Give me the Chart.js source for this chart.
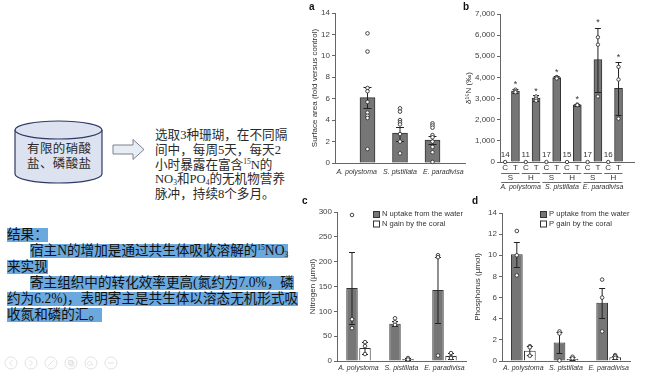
<!DOCTYPE html>
<html><head><meta charset="utf-8">
<script src="https://cdn.jsdelivr.net/npm/chart.js@4.4.1/dist/chart.umd.min.js"></script>
<style>
html,body{margin:0;padding:0;background:#fff;}
body{width:648px;height:378px;position:relative;overflow:hidden;}
.abs{position:absolute;}
canvas{position:absolute;}
.cn{font-family:"Liberation Serif","Noto Sans CJK SC",serif;color:#2a2a2a;white-space:nowrap;}
.top{font-size:12.6px;line-height:15px;left:155px;}
.hl{font-size:13.6px;white-space:nowrap;}
.hl span{display:inline-block;background:#6aa8de;height:14px;line-height:14px;color:#111;}
sup{font-size:7.5px;vertical-align:5px;line-height:0;}
sub{font-size:7.5px;vertical-align:-2px;line-height:0;}
.pl{font-family:"Liberation Sans",Arial,sans-serif;font-weight:bold;font-size:10px;color:#111;}
</style></head>
<body>
<svg class="abs" style="left:0;top:0" width="300" height="378">
  <path d="M15,130 L15,174 A43.5,9 0 0 0 102,174 L102,130" fill="#dce2ef" stroke="#2e3a66" stroke-width="1.2"/>
  <ellipse cx="58.5" cy="130" rx="43.5" ry="9" fill="#dce2ef" stroke="#2e3a66" stroke-width="1.2"/>
  <polygon points="113,145 133,145 133,139.5 144,149.5 133,159.5 133,154 113,154" fill="#e8ecf3" stroke="#7b8192" stroke-width="1"/>
  <g fill="none" stroke="#e2e2e2" stroke-width="1">
    <circle cx="11" cy="363" r="6"/><circle cx="31" cy="363" r="6"/><circle cx="51" cy="363" r="6"/>
    <circle cx="71" cy="363" r="6"/><circle cx="91" cy="363" r="6"/><circle cx="111" cy="363" r="6"/>
    <path d="M12.5,360 L9.5,363 L12.5,366 M29.5,360 L32.5,363 L29.5,366 M48,366 L54,360 M68.5,360.5 h4 v4 h-4z M70,362 h4 v4 h-4z M89.5,361.5 a2,2 0 1 0 0.1,0 M91.5,363.5 l2,2 M108,363 h6"/>
  </g>
</svg>
<div class="abs cn" style="left:27px;top:142px;font-size:12.5px;letter-spacing:0.4px;line-height:15px;">有限的硝酸<br>盐、磷酸盐</div>

<div class="abs cn top" style="top:128px;">选取3种珊瑚，在不同隔</div>
<div class="abs cn top" style="top:143px;">间中，每周5天，每天2</div>
<div class="abs cn top" style="top:158px;">小时暴露在富含<sup>15</sup>N的</div>
<div class="abs cn top" style="top:172px;">NO<sub>3</sub>和PO<sub>4</sub>的无机物营养</div>
<div class="abs cn top" style="top:187px;">脉冲，持续8个多月。</div>

<div class="abs" style="left:0;top:0;width:300px;height:378px;overflow:hidden;">
<div class="abs cn hl" style="left:7px;top:227px;"><span>结果：</span></div>
<div class="abs cn hl" style="left:30px;top:243px;"><span>宿主N的增加是通过共生体吸收溶解的<sup>15</sup>NO<sub>3</sub></span></div>
<div class="abs cn hl" style="left:7px;top:259px;"><span>来实现</span></div>
<div class="abs cn hl" style="left:30px;top:275px;"><span>寄主组织中的转化效率更高(氮约为7.0%，磷</span></div>
<div class="abs cn hl" style="left:7px;top:291px;"><span>约为6.2%)，表明寄主是共生体以溶态无机形式吸</span></div>
<div class="abs cn hl" style="left:7px;top:307px;"><span>收氮和磷的汇。</span></div>
</div>

<canvas id="ca" width="170" height="192" style="left:300px;top:0;"></canvas>
<canvas id="cb" width="186" height="192" style="left:462px;top:0;"></canvas>
<canvas id="cc" width="170" height="188" style="left:300px;top:190px;"></canvas>
<canvas id="cd" width="178" height="188" style="left:470px;top:190px;"></canvas>

<div class="abs pl" style="left:309px;top:1px;">a</div>
<div class="abs pl" style="left:463px;top:1px;">b</div>
<div class="abs pl" style="left:302px;top:195px;">c</div>
<div class="abs pl" style="left:472px;top:195px;">d</div>

<script>
// ---------- data ----------
const species = ['A. polystoma', 'S. pistillata', 'E. paradivisa'];

// panel a: surface area (fold versus control)
const areaMean = [6.1, 2.8, 2.15];
const areaLo = [5.1, 2.1, 1.75];
const areaHi = [7.05, 3.4, 2.55];
const areaPts = [
  [12.1, 10.4, 7.0, 6.7, 5.7, 4.7, 4.4, 4.2, 1.3],
  [5.1, 4.8, 4.0, 3.8, 3.6, 2.7, 2.0, 0.9],
  [3.7, 3.5, 3.3, 2.6, 2.4, 2.0, 1.5, 1.0, 0.1]
];
const areaTicks = [0, 2, 4, 6, 8, 10, 12, 14];

// panel b: d15N
const isoLabels = ['C','T','C','T','C','T','C','T','C','T','C','T'];
const isoMethods = ['S','H','S','H','S','H'];
const isoMean = [0, 3350, 0, 3020, 0, 3990, 0, 2700, 0, 4850, 0, 3480];
const isoLo = [null, 3270, null, 2900, null, 3950, null, 2660, null, 3300, null, 2200];
const isoHi = [null, 3430, null, 3150, null, 4050, null, 2740, null, 6350, null, 4750];
const isoPts = [[0],[3420,3350,3300],[0],[3100,3000,2900],[0],[4020,3990,3950],[0],[2720,2690],[0],[5900,5550,3100],[0],[4500,3900,2050]];
const isoN = [14, null, 11, null, 17, null, 15, null, 17, null, 16, null];
const isoStar = [null, 3740, null, 3450, null, 4350, null, 3030, null, 6670, null, 5060];
const isoTicks = [0, 1000, 2000, 3000, 4000, 5000, 6000, 7000];

// panel c: nitrogen
const nSeries = ['N uptake from the water', 'N gain by the coral'];
const nUptake = [147, 75, 143];
const nUptakeLo = [74, 70, 76];
const nUptakeHi = [220, 80, 210];
const nUptakePts = [[294, 84, 66], [86, 78, 73], [213, 209, 11]];
const nGain = [26, 4, 10];
const nGainLo = [14, 2.5, 4];
const nGainHi = [39, 6, 16];
const nGainPts = [[38, 30, 14], [6, 3], [16, 8, 6]];

// panel d: phosphorus
const pSeries = ['P uptake from the water', 'P gain by the coral'];
const pUptake = [10.1, 1.75, 5.5];
const pUptakeLo = [8.9, 0.8, 4.05];
const pUptakeHi = [11.3, 2.7, 6.9];
const pUptakePts = [[12.3, 10.0, 8.1], [2.8, 2.6, 0.05], [7.7, 6.0, 2.8]];
const pGain = [0.98, 0.2, 0.35];
const pGainLo = [0.55, 0.1, 0.2];
const pGainHi = [1.4, 0.35, 0.5];
const pGainPts = [[1.4, 1.3, 0.5], [0.4, 0.25], [0.55, 0.45, 0.3]];

// ---------- helpers ----------
Chart.defaults.font.family = '"Liberation Sans", Arial, sans-serif';
Chart.defaults.color = '#444';
const AX = '#666';
const pad = a => [null, ...a, null];

const marks = {
  id: 'marks',
  afterDatasetsDraw(chart, args, o) {
    const ctx = chart.ctx, ys = chart.scales.y;
    chart.data.datasets.forEach((ds, i) => {
      const meta = chart.getDatasetMeta(i);
      meta.data.forEach((bar, j) => {
        const x = bar.x;
        ctx.save();
        ctx.strokeStyle = '#222'; ctx.lineWidth = 1;
        if (ds.errLo && ds.errLo[j] != null) {
          const y1 = Math.round(ys.getPixelForValue(ds.errLo[j])) + 0.5;
          const y2 = Math.round(ys.getPixelForValue(ds.errHi[j])) + 0.5;
          ctx.beginPath();
          ctx.moveTo(x, y1); ctx.lineTo(x, y2);
          ctx.moveTo(x - o.cap, y1); ctx.lineTo(x + o.cap, y1);
          ctx.moveTo(x - o.cap, y2); ctx.lineTo(x + o.cap, y2);
          ctx.stroke();
        }
        if (ds.pts && ds.pts[j]) {
          ds.pts[j].forEach(v => {
            ctx.beginPath();
            ctx.arc(x, ys.getPixelForValue(v), o.r, 0, Math.PI * 2);
            ctx.fillStyle = '#fff'; ctx.fill();
            ctx.strokeStyle = '#333'; ctx.lineWidth = 0.9; ctx.stroke();
          });
        }
        ctx.restore();
      });
    });
  }
};

const legendPlug = {
  id: 'legendPlug',
  afterDraw(chart, args, o) {
    if (!o || !o.x) return;
    const ctx = chart.ctx;
    ctx.save();
    ctx.font = '7.6px "Liberation Sans", Arial, sans-serif';
    ctx.textBaseline = 'middle';
    chart.data.datasets.forEach((ds, i) => {
      const y = o.y + i * 9.5;
      ctx.fillStyle = ds.backgroundColor;
      ctx.fillRect(o.x + 0.5, y - 3 + 0.5, 6, 6);
      ctx.strokeStyle = '#333'; ctx.lineWidth = 1;
      ctx.strokeRect(o.x + 0.5, y - 3 + 0.5, 6, 6);
      ctx.fillStyle = '#333';
      ctx.fillText(ds.label, o.x + 9, y);
    });
    ctx.restore();
  }
};

function yAxis(min, max, ticks, title, width, tpad, fmt) {
  return {
    min, max,
    afterBuildTicks: s => { s.ticks = ticks.map(v => ({ value: v })); },
    ticks: { color: '#444', font: { size: 8 }, padding: 2, callback: fmt || (v => v) },
    grid: { display: true, drawOnChartArea: false, drawTicks: true, tickLength: 3, color: AX },
    border: { color: AX, width: 1 },
    title: { display: true, text: title, color: '#333', font: { size: 8 }, padding: { top: tpad, bottom: 0 } },
    afterFit: s => { s.width = width; }
  };
}
function xAxis(height, tpad, italic, offset, size) {
  return {
    offset: offset,
    ticks: { color: '#333', font: { size: size || 8, style: italic ? 'italic' : 'normal' }, padding: tpad, maxRotation: 0, autoSkip: false },
    grid: { display: false, drawTicks: false },
    border: { color: AX, width: 1 },
    afterFit: s => { s.height = height; }
  };
}
const base = { animation: false, responsive: false, devicePixelRatio: 1, events: [] };

// ---------- chart a ----------
const xa2 = xAxis(29, 5, true, true, 7);
xa2.type = 'category'; xa2.labels = species; xa2.position = 'bottom';
new Chart(document.getElementById('ca'), {
  type: 'bar',
  data: {
    labels: ['', ...species, ''],
    datasets: [{
      data: pad(areaMean), errLo: pad(areaLo), errHi: pad(areaHi), pts: pad(areaPts),
      backgroundColor: '#767676', borderColor: '#333', borderWidth: 1, barThickness: 15
    }]
  },
  options: Object.assign({}, base, {
    layout: { padding: { top: 13, right: 5, left: 0, bottom: 0 } },
    scales: {
      x: { type: 'category', offset: false, display: false },
      x2: xa2,
      y: yAxis(0, 14, areaTicks, 'Surface area (fold versus control)', 35, 10)
    },
    plugins: { legend: { display: false }, tooltip: { enabled: false }, marks: { cap: 4, r: 1.8 } }
  }),
  plugins: [marks]
});

// ---------- chart b ----------
const bExtra = {
  id: 'bExtra',
  afterDraw(chart) {
    const ctx = chart.ctx, ys = chart.scales.y, xs = chart.scales.x;
    const meta = chart.getDatasetMeta(0);
    const bottom = chart.chartArea.bottom;
    ctx.save();
    ctx.fillStyle = '#333'; ctx.textAlign = 'center'; ctx.textBaseline = 'middle';
    ctx.font = '8px "Liberation Sans", Arial, sans-serif';
    isoN.forEach((n, j) => { if (n != null) ctx.fillText(String(n), meta.data[j].x, bottom - 7); });
    ctx.font = '9px "Liberation Sans", Arial, sans-serif';
    isoStar.forEach((v, j) => { if (v != null) ctx.fillText('*', meta.data[j].x, ys.getPixelForValue(v) + 2); });
    ctx.strokeStyle = '#444'; ctx.lineWidth = 0.8;
    ctx.font = '8px "Liberation Sans", Arial, sans-serif';
    isoMethods.forEach((m, k) => {
      const x1 = xs.getPixelForValue(2 * k), x2 = xs.getPixelForValue(2 * k + 1);
      ctx.beginPath(); ctx.moveTo(x1 - 4, bottom + 11.5); ctx.lineTo(x2 + 4, bottom + 11.5); ctx.stroke();
      ctx.fillText(m, (x1 + x2) / 2, bottom + 16);
    });
    ctx.font = 'italic 7px "Liberation Sans", Arial, sans-serif';
    species.forEach((s, k) => {
      const x1 = xs.getPixelForValue(4 * k), x2 = xs.getPixelForValue(4 * k + 3);
      ctx.beginPath(); ctx.moveTo(x1 - 4, bottom + 20.5); ctx.lineTo(x2 + 4, bottom + 20.5); ctx.stroke();
      ctx.fillText(s, (x1 + x2) / 2, bottom + 25.5);
    });
    ctx.restore();
  }
};
new Chart(document.getElementById('cb'), {
  type: 'bar',
  data: {
    labels: [...isoLabels, ''],
    datasets: [{
      data: [...isoMean, null], errLo: isoLo, errHi: isoHi, pts: isoPts,
      backgroundColor: '#767676', borderColor: '#333', borderWidth: 1, barThickness: 8
    }]
  },
  options: Object.assign({}, base, {
    layout: { padding: { top: 14, right: 14, left: 0, bottom: 0 } },
    scales: {
      x: xAxis(30, 1, false, true),
      y: yAxis(0, 7000, isoTicks, 'δ¹⁵N (‰)', 38, 2, v => v.toLocaleString('en-US'))
    },
    plugins: { legend: { display: false }, tooltip: { enabled: false }, marks: { cap: 3, r: 1.7 } }
  }),
  plugins: [marks, bExtra]
});

// ---------- chart c ----------
new Chart(document.getElementById('cc'), {
  type: 'bar',
  data: {
    labels: species,
    datasets: [
      { label: nSeries[0], data: nUptake, errLo: nUptakeLo, errHi: nUptakeHi, pts: nUptakePts,
        backgroundColor: '#767676', borderColor: '#333', borderWidth: 1 },
      { label: nSeries[1], data: nGain, errLo: nGainLo, errHi: nGainHi, pts: nGainPts,
        backgroundColor: '#ffffff', borderColor: '#333', borderWidth: 1 }
    ]
  },
  options: Object.assign({}, base, {
    layout: { padding: { top: 22, right: 4, left: 0, bottom: 0 } },
    datasets: { bar: { categoryPercentage: 0.605, barPercentage: 0.88 } },
    scales: {
      x: xAxis(17, 3, true, true, 7),
      y: yAxis(0, 300, [0, 50, 100, 150, 200, 250, 300], 'Nitrogen (µmol)', 37, 8)
    },
    plugins: { legend: { display: false }, tooltip: { enabled: false }, marks: { cap: 3, r: 1.8 },
      legendPlug: { x: 73, y: 24 } }
  }),
  plugins: [marks, legendPlug]
});

// ---------- chart d ----------
new Chart(document.getElementById('cd'), {
  type: 'bar',
  data: {
    labels: species,
    datasets: [
      { label: pSeries[0], data: pUptake, errLo: pUptakeLo, errHi: pUptakeHi, pts: pUptakePts,
        backgroundColor: '#767676', borderColor: '#333', borderWidth: 1 },
      { label: pSeries[1], data: pGain, errLo: pGainLo, errHi: pGainHi, pts: pGainPts,
        backgroundColor: '#ffffff', borderColor: '#333', borderWidth: 1 }
    ]
  },
  options: Object.assign({}, base, {
    layout: { padding: { top: 23, right: 18, left: 0, bottom: 0 } },
    datasets: { bar: { categoryPercentage: 0.61, barPercentage: 0.9 } },
    scales: {
      x: xAxis(17, 3, true, true, 7),
      y: yAxis(0, 14, [0, 2, 4, 6, 8, 10, 12, 14], 'Phosphorus (µmol)', 32, 3)
    },
    plugins: { legend: { display: false }, tooltip: { enabled: false }, marks: { cap: 3, r: 1.8 },
      legendPlug: { x: 70, y: 24 } }
  }),
  plugins: [marks, legendPlug]
});
</script>
</body></html>
